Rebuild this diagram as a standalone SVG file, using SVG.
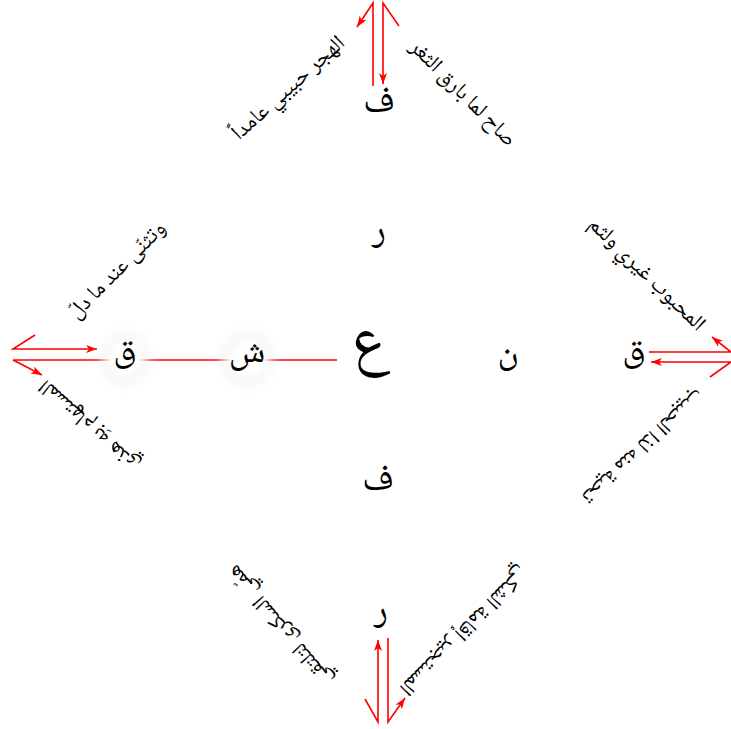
<svg xmlns="http://www.w3.org/2000/svg" width="731" height="729" viewBox="0 0 731 729">
<defs>
<style>
.edge{fill:none;stroke:#ff0000;stroke-width:1.6}
.node{font-family:"Noto Naskh Arabic","DejaVu Sans",serif;fill:#000;text-anchor:middle}
.lbl{font-family:"Noto Naskh Arabic","DejaVu Sans",serif;font-size:22px;fill:#000;text-anchor:middle;dominant-baseline:central;direction:rtl}
</style>
<marker id="ah" viewBox="0 0 11 8" refX="11" refY="4" markerWidth="11" markerHeight="8" markerUnits="userSpaceOnUse" orient="auto">
<path d="M0,0 L11,4 L0,8 L3,4 Z" fill="#ff0000"/>
</marker>
<filter id="blur" x="-50%" y="-50%" width="200%" height="200%"><feGaussianBlur stdDeviation="4"/></filter>
<filter id="blur2" x="-50%" y="-50%" width="200%" height="200%"><feGaussianBlur stdDeviation="7"/></filter>
</defs>
<rect width="731" height="729" fill="#fff"/>
<g id="connectors">
<polyline class="edge" points="399,26 383,3 383,84" marker-end="url(#ah)"/>
<polyline class="edge" points="373,86 373,3 357,27" marker-end="url(#ah)"/>
<polyline class="edge" points="35,335 13,349 97,349" marker-end="url(#ah)"/>
<polyline class="edge" points="337,360 13,360 42,375" marker-end="url(#ah)"/>
<polyline class="edge" points="649,352 731,352 712,337" marker-end="url(#ah)"/>
<polyline class="edge" points="710,377 731,362 651,362" marker-end="url(#ah)"/>
<polyline class="edge" points="365,699 378,722 378,640" marker-end="url(#ah)"/>
<polyline class="edge" points="388,638 388,722 405,698" marker-end="url(#ah)"/>
</g>
<g id="n-center"><text class="node" x="370" y="360" font-size="62">ع</text></g>
<g id="n-top1"><text class="node" x="379" y="112" font-size="37">ف</text></g>
<g id="n-top2"><text class="node" x="379" y="241" font-size="36">ر</text></g>
<g id="n-right1"><text class="node" x="508" y="362" font-size="36">ن</text></g>
<g id="n-right2"><text class="node" x="634" y="360" font-size="36">ق</text></g>
<g id="n-left2"><ellipse cx="247" cy="359" rx="24" ry="26" fill="#f3f3f3" filter="url(#blur2)"/><ellipse cx="247" cy="359" rx="19" ry="20" fill="#fff" filter="url(#blur)"/><text class="node" x="247" y="362" font-size="36">ش</text></g>
<g id="n-left1"><ellipse cx="125" cy="358" rx="22" ry="26" fill="#f3f3f3" filter="url(#blur2)"/><ellipse cx="125" cy="358" rx="17" ry="20" fill="#fff" filter="url(#blur)"/><text class="node" x="125" y="360" font-size="36">ق</text></g>
<g id="n-bottom1"><text class="node" x="378" y="490" font-size="37">ف</text></g>
<g id="n-bottom2"><text class="node" x="381" y="621" font-size="36">ر</text></g>
<g id="labels">
<text class="lbl" transform="translate(462,94) rotate(45)">صاح لما بارق الثغر</text>
<text class="lbl" transform="translate(289,89) rotate(-42)">الهجر حبيبي عامداً</text>
<text class="lbl" transform="translate(118,271) rotate(-45)">وتثنّى عند ما دلّ</text>
<text class="lbl" transform="translate(646,275) rotate(44)">المحبوب غيري ولثم</text>
<text class="lbl" transform="translate(90,425) rotate(-138)">المستهام بهِ هذي</text>
<text class="lbl" transform="translate(642,445) rotate(137)">تحية منه لذا الحبيب</text>
<text class="lbl" transform="translate(281,625) rotate(-130)">همّي السكرى لتلتقي</text>
<text class="lbl" transform="translate(463,630) rotate(135)">المستجير إقامة الشكي</text>
</g>
</svg>
